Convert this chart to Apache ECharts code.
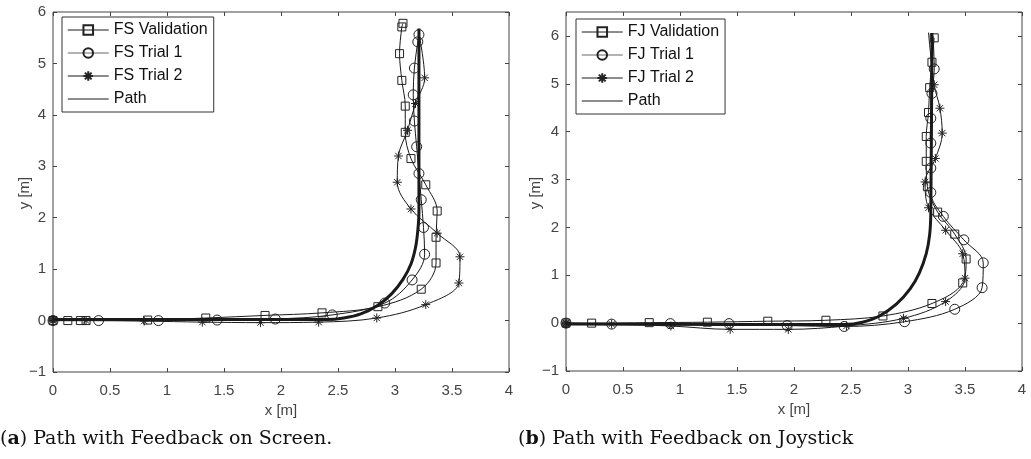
<!DOCTYPE html>
<html>
<head>
<meta charset="utf-8">
<script src="https://cdn.jsdelivr.net/npm/echarts@6/dist/echarts.min.js"></script>
<style>
  html, body { margin: 0; background: #fff; }
  #chart { width: 1031px; height: 459px; }
</style>
</head>
<body>
<div id="chart"></div>
<script>
// (a) Feedback on Screen
const fsValidation = [[0, 0], [0.13, 0], [0.24, 0], [0.29, 0], [0.83, 0.01], [1.34, 0.05], [1.86, 0.1], [2.36, 0.15], [2.85, 0.27], [3.23, 0.61], [3.36, 1.12], [3.36, 1.62], [3.37, 2.13], [3.27, 2.64], [3.14, 3.15], [3.09, 3.66], [3.09, 4.17], [3.06, 4.67], [3.04, 5.19], [3.06, 5.71], [3.07, 5.78]];
const fsTrial1 = [[0, 0], [0.4, 0], [0.925, 0], [1.44, 0.01], [1.95, 0.03], [2.45, 0.11], [2.91, 0.34], [3.15, 0.79], [3.26, 1.29], [3.25, 1.81], [3.23, 2.35], [3.21, 2.86], [3.19, 3.38], [3.17, 3.88], [3.16, 4.39], [3.17, 4.91], [3.2, 5.42], [3.21, 5.56]];
const fsTrial2 = [[0, 0], [0.29, 0], [0.8, -0.01], [1.31, -0.03], [1.82, -0.04], [2.33, -0.03], [2.84, 0.05], [3.27, 0.31], [3.56, 0.73], [3.57, 1.24], [3.37, 1.7], [3.14, 2.17], [3.02, 2.69], [3.03, 3.2], [3.11, 3.7], [3.18, 4.22], [3.26, 4.72]];
const fsTrial2End = [3.21, 5.58];
const fsPath = [[0, 0.02], [2.4, 0.02], [2.55, 0.05], [2.7, 0.13], [2.85, 0.3], [2.97, 0.52], [3.07, 0.8], [3.14, 1.1], [3.18, 1.42], [3.2, 1.75], [3.21, 2.1], [3.21, 5.68]];

// (b) Feedback on Joystick
const fjValidation = [[0, 0], [0.225, 0], [0.73, 0.01], [1.24, 0.02], [1.77, 0.04], [2.28, 0.06], [2.78, 0.15], [3.21, 0.41], [3.48, 0.84], [3.51, 1.34], [3.41, 1.86], [3.26, 2.32], [3.17, 2.85], [3.16, 3.38], [3.16, 3.9], [3.18, 4.4], [3.19, 4.92], [3.21, 5.45], [3.23, 5.96]];
const fjTrial1 = [[0, 0], [0.4, -0.02], [0.915, -0.01], [1.43, -0.01], [1.94, -0.05], [2.44, -0.07], [2.97, 0.03], [3.41, 0.29], [3.65, 0.74], [3.66, 1.26], [3.49, 1.74], [3.31, 2.23], [3.2, 2.73], [3.2, 3.24], [3.2, 3.76], [3.2, 4.28], [3.21, 4.8], [3.23, 5.31]];
const fjTrial1End = [3.22, 6.0];
const fjTrial2 = [[0, 0], [0.4, -0.02], [0.92, -0.06], [1.44, -0.13], [1.95, -0.13], [2.46, -0.06], [2.96, 0.1], [3.33, 0.45], [3.5, 0.94], [3.48, 1.45], [3.33, 1.94], [3.18, 2.41], [3.15, 2.95], [3.24, 3.44], [3.3, 3.97], [3.28, 4.49], [3.23, 4.98]];
const fjTrial2End = [3.18, 6.07];
const fjPath = [[0, -0.02], [2.45, -0.03], [2.6, 0.02], [2.75, 0.15], [2.9, 0.4], [3.02, 0.72], [3.1, 1.05], [3.16, 1.45], [3.19, 1.85], [3.2, 2.3], [3.21, 6.06]];

const xTicks = { min: 0, max: 4, interval: 0.5 };
const yTicksA = { min: -1, max: 6, interval: 1 };
const yTicksB = { min: -1, max: 6.5, interval: 1 };

const chart = echarts.init(document.getElementById("chart"));

const axisGray = "#444";
const lineBlack = "#1a1a1a";
const starPath = "path://M5,0L5,10M0,5L10,5M1.5,1.5L8.5,8.5M1.5,8.5L8.5,1.5";

function minusSign(v) {
  return String(v).replace("-", "\u2212");
}

function makeAxes(gridIndex, scale, isX) {
  const base = {
    gridIndex: gridIndex,
    type: "value",
    min: scale.min,
    max: scale.max,
    interval: scale.interval,
    axisLine: { show: false, onZero: false },
    axisTick: { show: true, inside: true, length: 4, lineStyle: { color: axisGray } },
    splitLine: { show: false }
  };
  const main = Object.assign({}, base, {
    position: isX ? "bottom" : "left",
    axisLabel: {
      color: "#444",
      fontSize: 15,
      fontFamily: "Liberation Sans",
      margin: isX ? 11 : 7,
      showMaxLabel: scale.max % scale.interval === 0,
      formatter: minusSign
    }
  });
  if (isX) {
    main.name = "x [m]";
    main.nameLocation = "middle";
    main.nameGap = 30;
    main.nameTextStyle = { color: "#444", fontSize: 15, fontFamily: "Liberation Sans" };
  }
  const mirror = Object.assign({}, base, {
    position: isX ? "top" : "right",
    axisLabel: { show: false }
  });
  return [main, mirror];
}

function markedLine(name, data, symbol, size, xi, yi, end) {
  const points = data.slice();
  if (end) {
    points.push({ value: end, symbol: "none" });
  }
  return {
    name: name,
    type: "line",
    xAxisIndex: xi,
    yAxisIndex: yi,
    data: points,
    smooth: 0.35,
    symbol: symbol,
    symbolSize: size,
    showSymbol: true,
    lineStyle: { color: lineBlack, width: 1 },
    itemStyle: { color: "rgba(0,0,0,0)", borderColor: "#222", borderWidth: 1 },
    z: 3
  };
}

function pathLine(data, xi, yi) {
  return {
    name: "Path",
    type: "line",
    xAxisIndex: xi,
    yAxisIndex: yi,
    data: data,
    smooth: 0.3,
    symbol: "none",
    lineStyle: { color: lineBlack, width: 3 },
    itemStyle: { color: lineBlack },
    z: 4
  };
}

// filled start dot where every run begins
function startDot(data, xi, yi) {
  return {
    type: "scatter",
    xAxisIndex: xi,
    yAxisIndex: yi,
    data: [data[0]],
    symbol: "circle",
    symbolSize: 8,
    itemStyle: { color: lineBlack },
    z: 5
  };
}

const axesA = { x: makeAxes(0, xTicks, true), y: makeAxes(0, yTicksA, false) };
const axesB = { x: makeAxes(1, xTicks, true), y: makeAxes(1, yTicksB, false) };

function legendAt(left, top, names) {
  return {
    data: names.map(function (n, i) {
      const gray = i === 1 || i === 3;
      const item = { name: n, lineStyle: { color: gray ? "#666" : lineBlack, width: i === 3 ? 1.5 : 1 } };
      if (i === 3) {
        item.itemStyle = { opacity: 0 };
      }
      return item;
    }),
    orient: "vertical",
    left: left,
    top: top,
    itemWidth: 41,
    itemHeight: 12,
    itemGap: 7,
    padding: [5, 6, 5, 5],
    borderColor: "#333",
    borderWidth: 1,
    backgroundColor: "#fff",
    selectedMode: false,
    textStyle: { color: "#111", fontSize: 16, fontFamily: "Liberation Sans" }
  };
}

function yName(x) {
  return {
    type: "text",
    x: x,
    y: 193,
    rotation: Math.PI / 2,
    style: {
      text: "y [m]",
      font: "15px 'Liberation Sans'",
      fill: "#444",
      align: "center",
      verticalAlign: "middle"
    }
  };
}

chart.setOption({
  animation: false,
  grid: [
    { left: 53, top: 12, width: 456, height: 360, show: true, borderColor: axisGray, borderWidth: 1, backgroundColor: "#fff" },
    { left: 566, top: 12, width: 456, height: 359, show: true, borderColor: axisGray, borderWidth: 1, backgroundColor: "#fff" }
  ],
  xAxis: axesA.x.concat(axesB.x),
  yAxis: axesA.y.concat(axesB.y),
  legend: [
    legendAt(62, 17, ["FS Validation", "FS Trial 1", "FS Trial 2", "Path"]),
    legendAt(576, 19, ["FJ Validation", "FJ Trial 1", "FJ Trial 2", "Path"])
  ],
  series: [
    markedLine("FS Validation", fsValidation, "rect", 8, 0, 0),
    markedLine("FS Trial 1", fsTrial1, "circle", 10, 0, 0),
    markedLine("FS Trial 2", fsTrial2, starPath, 9, 0, 0, fsTrial2End),
    pathLine(fsPath, 0, 0),
    startDot(fsPath, 0, 0),
    markedLine("FJ Validation", fjValidation, "rect", 8, 2, 2),
    markedLine("FJ Trial 1", fjTrial1, "circle", 10, 2, 2, fjTrial1End),
    markedLine("FJ Trial 2", fjTrial2, starPath, 9, 2, 2, fjTrial2End),
    pathLine(fjPath, 2, 2),
    startDot(fjPath, 2, 2)
  ],
  graphic: [
    yName(25),
    yName(536),
    {
      type: "text",
      left: 0,
      top: 430,
      style: {
        text: "({b|a}) Path with Feedback on Screen.",
        font: "19px 'DejaVu Serif'",
        fill: "#111",
        rich: { b: { fontWeight: "bold", fontSize: 19, fontFamily: "DejaVu Serif" } }
      }
    },
    {
      type: "text",
      left: 518,
      top: 430,
      style: {
        text: "({b|b}) Path with Feedback on Joystick",
        font: "19px 'DejaVu Serif'",
        fill: "#111",
        rich: { b: { fontWeight: "bold", fontSize: 19, fontFamily: "DejaVu Serif" } }
      }
    }
  ]
});
</script>
</body>
</html>
